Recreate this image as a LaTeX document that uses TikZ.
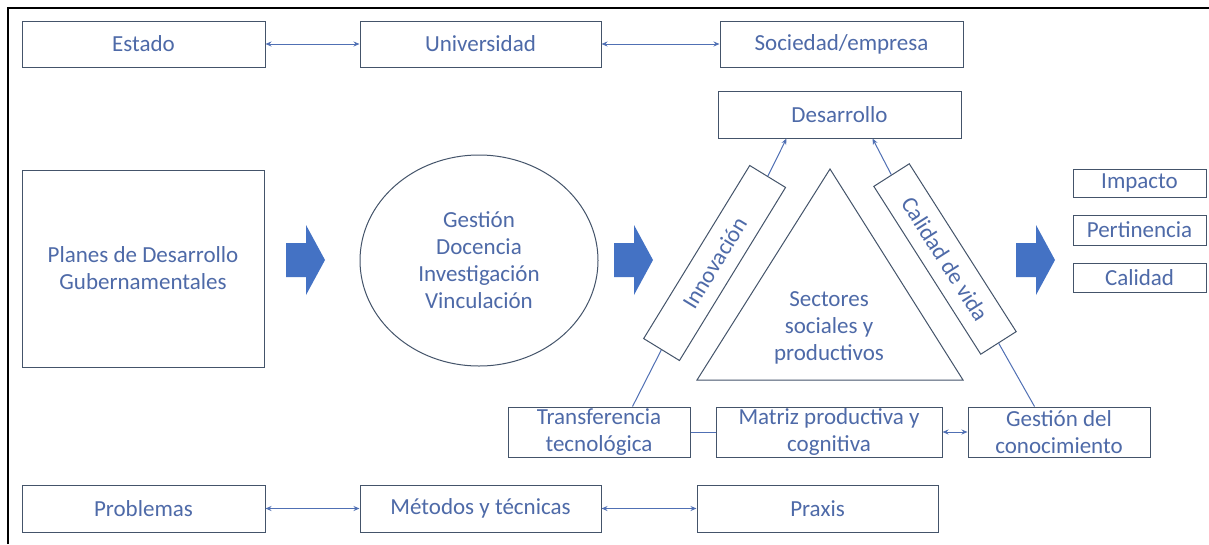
\documentclass[tikz,border=0pt]{standalone}
\usepackage{fontspec}
\setmainfont{Carlito}
\usetikzlibrary{shapes.geometric,arrows.meta}
\definecolor{txtc}{RGB}{78,106,168}
\definecolor{brdc}{RGB}{68,84,106}
\definecolor{arrc}{RGB}{68,114,196}
\definecolor{linc}{RGB}{80,112,180}
\newcommand\blockarrow[1]{\fill[arrc] (#1,243) -- ++(20,0) -- ++(0,-18) -- ++(19,35) -- ++(-19,35) -- ++(0,-18) -- ++(-20,0) -- cycle;}
\begin{document}
\begin{tikzpicture}[x=1pt,y=-1pt,
  box/.style={rectangle,draw=brdc,line width=1pt,text=txtc,font=\fontsize{23}{27}\selectfont,align=center,inner sep=0pt},
  conn/.style={draw=linc,line width=1pt},
  dbl/.style={conn,{Stealth[length=6pt,width=5pt]}-{Stealth[length=6pt,width=5pt]}},
  one/.style={conn,-{Stealth[length=6pt,width=5pt]}}]
\useasboundingbox (0,0) rectangle (1209,544);
\fill[white] (0,0) rectangle (1209,544);
\draw[black,line width=2.5pt] (8,544) -- (8,8) -- (1209,8);

% top row
\node[box,minimum width=243pt,minimum height=46pt] (est) at (143.5,44) {Estado};
\node[box,minimum width=241pt,minimum height=46pt] (uni) at (480.5,44) {Universidad};
\node[box,minimum width=243pt,minimum height=46pt] (soc) at (841.5,44) {Sociedad/empresa};
\draw[dbl] (est) -- (uni);
\draw[dbl] (uni) -- (soc);

% middle
\node[box,minimum width=243pt,minimum height=47pt] (des) at (839.5,114.5) {Desarrollo};
\node[box,minimum width=242pt,minimum height=197pt] (pla) at (143,268.5) {Planes de Desarrollo\\Gubernamentales};
\node[box,ellipse,minimum width=238pt,minimum height=211pt] (circ) at (479,260.5) {Gestión\\Docencia\\Investigación\\Vinculación};
\blockarrow{286}
\blockarrow{614}
\blockarrow{1016}

\draw[brdc,line width=1pt] (830,169) -- (963,380) -- (697,380) -- cycle;
\node[text=txtc,font=\fontsize{23}{27}\selectfont,align=center] (sec) at (829,328) {Sectores\\sociales y\\productivos};

\node[box,rotate=58.5,minimum width=203pt,minimum height=42pt] (inn) at (714.6,263) {Innovación};
\node[box,rotate=-57.5,minimum width=199pt,minimum height=42pt] (cal) at (945,259) {Calidad de vida};

\draw[one] (inn.east) -- ([xshift=69pt]des.south west);
\draw[one] (cal.west) -- ([xshift=155pt]des.south west);

% right column
\node[box,minimum width=133pt,minimum height=28pt] (imp) at (1139.5,183) {Impacto};
\node[box,minimum width=133pt,minimum height=30pt] (per) at (1139.5,230) {Pertinencia};
\node[box,minimum width=133pt,minimum height=29pt] (cali) at (1139.5,277.5) {Calidad};

% lower row
\node[box,minimum width=182pt,minimum height=50pt] (tra) at (599,432) {Transferencia\\tecnológica};
\node[box,minimum width=226pt,minimum height=50pt] (mat) at (829,432) {Matriz productiva y\\cognitiva};
\node[box,minimum width=182pt,minimum height=50pt] (ges) at (1059,432) {Gestión del\\conocimiento};
\draw[conn] (tra) -- (mat);
\draw[dbl] (mat) -- (ges);
\draw[conn] (inn.west) -- ([xshift=125pt]tra.north west);
\draw[conn] (cal.east) -- ([xshift=67pt]ges.north west);

% bottom row
\node[box,minimum width=243pt,minimum height=47pt] (prob) at (143.5,508.5) {Problemas};
\node[box,minimum width=241pt,minimum height=47pt] (met) at (480.5,508.5) {Métodos y técnicas};
\node[box,minimum width=241pt,minimum height=47pt] (pra) at (817.5,508.5) {Praxis};
\draw[dbl] (prob) -- (met);
\draw[dbl] (met) -- (pra);
\end{tikzpicture}
\end{document}
